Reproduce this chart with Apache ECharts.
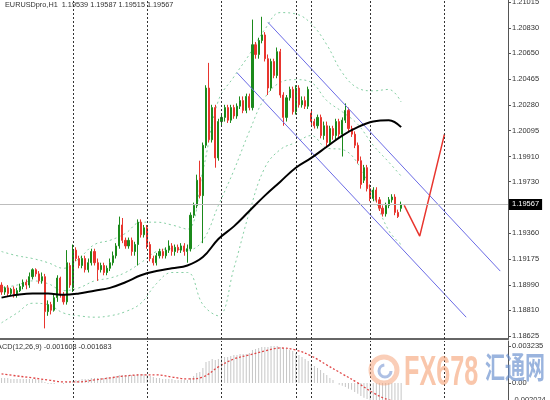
<!DOCTYPE html>
<html><head><meta charset="utf-8">
<script src="https://cdn.jsdelivr.net/npm/echarts@6/dist/echarts.min.js"></script>
<style>html,body{margin:0;padding:0;background:#fff}#c{width:550px;height:400px}</style>
</head><body><div id="c"></div>
<script>
const symbolName = 'EURUSDpro,H1';
const totalSlots = 164;
// [open, close, low, high]
const ohlc = [
[1.1899,1.1894,1.1892,1.1901],[1.1894,1.1897,1.1892,1.1898],[1.1897,1.1893,1.1891,1.1899],[1.1893,1.1896,1.1891,1.1897],
[1.1896,1.1892,1.1890,1.1898],[1.1892,1.1895,1.1890,1.1897],[1.1895,1.1898,1.1894,1.1900],[1.1898,1.1901,1.1896,1.1903],
[1.1901,1.1899,1.1896,1.1903],[1.1899,1.1905,1.1897,1.1908],[1.1905,1.1910,1.1903,1.1911],[1.1910,1.1907,1.1905,1.1911],
[1.1907,1.1902,1.1900,1.1909],[1.1902,1.1905,1.1900,1.1908],[1.1905,1.1880,1.1868,1.1907],[1.1880,1.1885,1.1877,1.1888],
[1.1885,1.1881,1.1878,1.1887],[1.1881,1.1890,1.1880,1.1892],[1.1890,1.1904,1.1887,1.1906],[1.1904,1.1892,1.1890,1.1905],
[1.1892,1.1887,1.1885,1.1894],[1.1887,1.1915,1.1885,1.1924],[1.1913,1.1899,1.1897,1.1915],[1.1897,1.1924,1.1894,1.1928],
[1.1924,1.1918,1.1916,1.1926],[1.1918,1.1913,1.1911,1.1920],[1.1913,1.1918,1.1911,1.1920],[1.1918,1.1910,1.1908,1.1920],
[1.1910,1.1915,1.1908,1.1918],[1.1915,1.1923,1.1913,1.1925],[1.1923,1.1915,1.1913,1.1925],[1.1915,1.1910,1.1902,1.1918],
[1.1910,1.1913,1.1908,1.1915],[1.1913,1.1908,1.1906,1.1915],[1.1908,1.1911,1.1906,1.1913],[1.1911,1.1915,1.1909,1.1918],
[1.1915,1.1920,1.1913,1.1923],[1.1920,1.1927,1.1918,1.1929],[1.1927,1.1942,1.1925,1.1948],[1.1942,1.1931,1.1929,1.1947],
[1.1931,1.1927,1.1925,1.1933],[1.1927,1.1931,1.1925,1.1933],[1.1931,1.1923,1.1920,1.1933],[1.1923,1.1928,1.1920,1.1930],
[1.1928,1.1944,1.1913,1.1946],[1.1944,1.1935,1.1933,1.1946],[1.1935,1.1940,1.1933,1.1942],[1.1940,1.1928,1.1925,1.1942],
[1.1928,1.1918,1.1916,1.1930],[1.1918,1.1915,1.1913,1.1920],[1.1915,1.1920,1.1913,1.1922],[1.1920,1.1923,1.1918,1.1925],
[1.1923,1.1920,1.1918,1.1925],[1.1920,1.1924,1.1918,1.1926],[1.1924,1.1927,1.1922,1.1931],[1.1927,1.1923,1.1920,1.1929],
[1.1923,1.1926,1.1920,1.1928],[1.1926,1.1924,1.1922,1.1928],[1.1924,1.1927,1.1922,1.1929],[1.1927,1.1923,1.1920,1.1929],
[1.1923,1.1925,1.1915,1.1928],[1.1925,1.1949,1.1923,1.1951],[1.1949,1.1956,1.1947,1.1958],[1.1956,1.1974,1.1954,1.1978],
[1.1976,1.1963,1.1961,1.1988],[1.1963,1.1999,1.1929,1.2001],[1.1999,1.2040,1.1997,1.2042],[1.2040,1.2003,1.2001,1.2058],
[1.2003,1.2026,1.2001,1.2028],[1.2026,1.1990,1.1983,1.2028],[1.1990,1.2016,1.1988,1.2018],[1.2016,1.2019,1.2013,1.2021],
[1.2019,1.2026,1.2016,1.2028],[1.2026,1.2017,1.2015,1.2028],[1.2017,1.2026,1.2015,1.2028],[1.2026,1.2020,1.2018,1.2028],
[1.2020,1.2027,1.2018,1.2029],[1.2027,1.2031,1.2025,1.2034],[1.2031,1.2024,1.2022,1.2034],[1.2024,1.2034,1.2022,1.2036],
[1.2034,1.2026,1.2024,1.2036],[1.2026,1.2071,1.2024,1.2089],[1.2071,1.2064,1.2061,1.2073],[1.2064,1.2074,1.2061,1.2076],
[1.2074,1.2078,1.2072,1.2091],[1.2078,1.2061,1.2059,1.2080],[1.2061,1.2040,1.2035,1.2064],[1.2040,1.2059,1.2038,1.2061],
[1.2059,1.2049,1.2047,1.2061],[1.2049,1.2066,1.2047,1.2069],[1.2066,1.2035,1.2033,1.2068],[1.2035,1.2019,1.2013,1.2037],
[1.2019,1.2033,1.2016,1.2035],[1.2033,1.2039,1.2031,1.2041],[1.2039,1.2023,1.2021,1.2041],[1.2023,1.2040,1.2021,1.2042],
[1.2040,1.2028,1.2026,1.2042],[1.2028,1.2031,1.2026,1.2034],[1.2031,1.2027,1.2025,1.2034],[1.2027,1.2039,1.2025,1.2041],
[1.2022,1.2016,1.2013,1.2024],[1.2016,1.2013,1.2011,1.2018],[1.2013,1.2019,1.2011,1.2021],[1.2019,1.2006,1.2004,1.2021],
[1.2006,1.2013,1.2003,1.2016],[1.2013,1.2001,1.1998,1.2016],[1.2001,1.2011,1.1999,1.2013],[1.2011,1.2006,1.2003,1.2013],
[1.2006,1.2016,1.2003,1.2018],[1.2016,1.2007,1.2005,1.2018],[1.2007,1.2017,1.1991,1.2019],[1.2017,1.2024,1.2015,1.2029],
[1.2024,1.2011,1.2009,1.2026],[1.2011,1.2007,1.2005,1.2013],[1.2007,1.1999,1.1997,1.2009],[1.1999,1.1988,1.1986,1.2001],
[1.1988,1.1971,1.1968,1.1991],[1.1974,1.1983,1.1972,1.1985],[1.1983,1.1968,1.1966,1.1985],[1.1968,1.1961,1.1959,1.1971],
[1.1961,1.1967,1.1959,1.1969],[1.1967,1.1960,1.1958,1.1969],[1.1960,1.1954,1.1952,1.1962],[1.1954,1.1950,1.1948,1.1956],
[1.1950,1.1956,1.1948,1.1958],[1.1956,1.1960,1.1954,1.1962],[1.1960,1.1962,1.1958,1.1964],[1.1962,1.1951,1.1949,1.1964],
[1.1951,1.1948,1.1947,1.1953],[1.19539,1.19567,1.19515,1.19587]
];
const sampleIdx = [0,5,10,15,20,25,30,35,40,45,50,55,60,65,70,75,80,85,90,95,100,105,110,115,120,125,129];
const maLine = [1.1890,1.1892,1.1893,1.1893,1.1892,1.1893,1.1895,1.1897,1.1901,1.1906,1.1909,1.1911,1.1913,1.1919,1.1932,1.1941,1.1952,1.1963,1.1973,1.1983,1.1990,1.1998,1.2006,1.2012,1.2016,1.2017,1.2012];
const bbUpper = [1.1923,1.1920,1.1918,1.1915,1.1911,1.1918,1.1928,1.1931,1.1936,1.1944,1.1944,1.1942,1.1939,1.1981,1.2031,1.2048,1.2064,1.2082,1.2094,1.2093,1.2086,1.2071,1.2051,1.2040,1.2038,1.2039,1.2030];
const bbMiddle = [1.1897,1.1899,1.1902,1.1900,1.1895,1.1897,1.1902,1.1904,1.1908,1.1915,1.1923,1.1925,1.1924,1.1931,1.1956,1.1981,1.2009,1.2033,1.2044,1.2046,1.2044,1.2031,1.2023,1.2014,1.1999,1.1987,1.1977];
const bbLower = [1.1872,1.1879,1.1886,1.1885,1.1879,1.1877,1.1876,1.1877,1.1880,1.1886,1.1900,1.1908,1.1908,1.1885,1.1877,1.1911,1.1951,1.1983,1.1996,1.2001,1.2006,1.1997,1.1996,1.1986,1.1963,1.1938,1.1928];
const channelUpper = [[86,1.2087],[161,1.1909]];
const channelLower = [[76,1.2051],[150,1.1876]];
const projection = [[130,1.1956],[135,1.1934],[143,1.2007]];
const macdMain = [
0.00044,0.00044,0.00044,0.00035,0.00035,0.00035,0.00035,0.00035,0.00035,0.00035,0.00035,0.00035,0.00026,0.00026,
0.00009,-0.00009,-0.00009,-0.00009,0,0,-0.00009,
0.00009,0.00009,0.00017,0.00026,0.00026,0.00035,0.00035,0.00035,0.00044,0.00044,0.00044,0.00044,0.00044,
0.00052,0.00052,0.00052,0.00061,0.0007,0.0007,0.0007,0.0007,0.0007,0.0007,0.00079,0.00079,0.00079,
0.0007,0.00061,0.00052,0.00044,0.00044,0.00035,0.00035,0.00035,0.00035,0.00026,0.00026,0.00026,0.00026,0.00026,
0.00044,0.00061,0.00087,0.00096,0.00131,0.00184,0.00192,0.0021,0.00201,0.0021,0.00219,0.00227,0.00227,0.00236,0.00245,0.00245,0.00253,0.00253,0.00253,0.00262,
0.00288,0.00297,0.00306,0.00315,0.00315,0.00315,0.003235,0.003235,0.003235,0.00315,0.00306,0.00297,0.00288,0.0028,
0.00262,0.00245,0.00227,0.0021,0.00192,0.00166,0.00149,0.00131,0.00114,0.00087,0.0007,0.00044,0.00026,0,-0.00017,-0.00026,-0.00035,-0.00052,-0.00061,-0.00079,-0.00096,-0.00114,-0.00131,-0.0014,-0.00157,-0.00166,-0.00175,-0.00184,-0.00192,-0.00197,-0.002024,-0.00199,-0.00192,-0.00175,-0.001608
];
const macdSignal = [0.00079,0.00061,0.00044,0.00026,0.00009,0.00009,0.00026,0.00044,0.00061,0.0007,0.0007,0.00052,0.00035,0.00052,0.0014,0.0021,0.00245,0.0028,0.00306,0.00288,0.00236,0.00157,0.00079,0,-0.00087,-0.00149,-0.001683];
const priceTickLabels = ['1.18625','1.18810','1.18990','1.19175','1.19360','1.19730','1.19910','1.20095','1.20280','1.20465','1.20650','1.20830','1.21015'];
const macdTickLabels = ['-0.002024','0.00','0.003235'];
const separatorSlots = [23,47,71,95,119,143];
const sessionSlot = 100;

const FONT = 'Liberation Sans';
const slots = Array.from({length: totalSlots}, (_, i) => String(i));
const priceTickVals = priceTickLabels.map(Number);
const macdTickVals = macdTickLabels.map(Number);
const last = ohlc[ohlc.length - 1];
const pairs = (arr) => sampleIdx.map((s, k) => [s, arr[k]]);
const nearestIdx = (vals, v) => {
  let b = 0; for (let i = 1; i < vals.length; i++) if (Math.abs(vals[i]-v) < Math.abs(vals[b]-v)) b = i;
  return Math.abs(vals[b]-v) < 1e-6 ? b : -1;
};
const vLines = separatorSlots.map(s => ({xAxis: s, lineStyle:{color:'#333', type:[2,2], width:1}, label:{show:false}}))
  .concat([{xAxis: sessionSlot, lineStyle:{color:'#333', type:[2,2], width:1}, label:{show:false}}]);

const chart = echarts.init(document.getElementById('c'), null, {renderer:'canvas', width:550, height:400});
chart.setOption({
  animation: false,
  backgroundColor: '#fff',
  textStyle: {fontFamily: FONT},
  title: [
    {text: symbolName + '  ' + [last[0], last[3], last[2], last[1]].map(v => v.toFixed(5)).join(' '),
     left: 5, top: 1, padding: 0, textStyle: {fontSize: 7.3, fontWeight: 'normal', color: '#333', fontFamily: FONT}},
    {text: 'MACD(12,26,9) ' + macdMain[macdMain.length-1].toFixed(6) + ' ' + macdSignal[macdSignal.length-1].toFixed(6),
     left: -9, top: 343, padding: 0, textStyle: {fontSize: 7.3, fontWeight: 'normal', color: '#333', fontFamily: FONT}}
  ],
  grid: [
    {left: 0, right: 42, top: 0, height: 339, containLabel: false, outerBoundsMode: 'none'},
    {left: 0, right: 42, top: 341, height: 65, containLabel: false, outerBoundsMode: 'none'}
  ],
  xAxis: [
    {type: 'category', gridIndex: 0, data: slots, boundaryGap: true,
     axisLine: {show: true, onZero: false, lineStyle: {color: '#666', width: 2}}, axisTick: {show: false}, axisLabel: {show: false}, splitLine: {show: false}},
    {type: 'category', gridIndex: 1, data: slots, boundaryGap: true,
     axisLine: {show: false}, axisTick: {show: false}, axisLabel: {show: false}, splitLine: {show: false}}
  ],
  yAxis: [
    {type: 'value', gridIndex: 0, position: 'right', min: 1.18604, max: 1.21030, scale: true,
     splitLine: {show: false},
     axisLine: {show: true, lineStyle: {color: '#555', width: 1}},
     axisTick: {show: true, length: 3, customValues: priceTickVals, lineStyle: {color: '#555'}},
     axisLabel: {customValues: priceTickVals, formatter: (v) => { const k = nearestIdx(priceTickVals, v); return k < 0 ? '' : priceTickLabels[k]; },
       fontSize: 7.5, color: '#333', margin: 4, fontFamily: FONT}},
    {type: 'value', gridIndex: 1, position: 'right', min: -0.002024, max: 0.003672, scale: true,
     splitLine: {show: false},
     axisLine: {show: true, lineStyle: {color: '#555', width: 1}},
     axisTick: {show: true, length: 3, customValues: macdTickVals, lineStyle: {color: '#555'}},
     axisLabel: {customValues: macdTickVals,
       formatter: (v) => { const k = nearestIdx(macdTickVals, v); if (k < 0) return ''; return k === 0 ? '{low|' + macdTickLabels[k] + '}' : macdTickLabels[k]; },
       rich: {low: {fontSize: 7.5, color: '#333', padding: [0,0,12,0], fontFamily: FONT}},
       fontSize: 7.5, color: '#333', margin: 4, fontFamily: FONT}}
  ],
  series: [
    {type: 'line', name: 'bbU', xAxisIndex: 0, yAxisIndex: 0, data: pairs(bbUpper), smooth: 0.4, symbol: 'none',
     lineStyle: {color: '#86cfa4', width: 1, type: [2,3]}, z: 1},
    {type: 'line', name: 'bbM', xAxisIndex: 0, yAxisIndex: 0, data: pairs(bbMiddle), smooth: 0.4, symbol: 'none',
     lineStyle: {color: '#86cfa4', width: 1, type: [2,3]}, z: 1},
    {type: 'line', name: 'bbL', xAxisIndex: 0, yAxisIndex: 0, data: pairs(bbLower), smooth: 0.4, symbol: 'none',
     lineStyle: {color: '#86cfa4', width: 1, type: [2,3]}, z: 1},
    {type: 'candlestick', xAxisIndex: 0, yAxisIndex: 0, data: ohlc, barWidth: 1.6, z: 3,
     itemStyle: {color: '#1b8a1b', color0: '#e8352e', borderColor: '#1b8a1b', borderColor0: '#e8352e', borderWidth: 1},
     markLine: {silent: true, symbol: ['none','none'], animation: false, data: vLines}},
    {type: 'line', name: 'ma', xAxisIndex: 0, yAxisIndex: 0, data: pairs(maLine), smooth: 0.4, symbol: 'none',
     lineStyle: {color: '#000', width: 2}, z: 5,
     markLine: {silent: true, symbol: ['none','none'], animation: false, precision: 5,
       data: [{yAxis: last[1], lineStyle: {color: '#bdbdbd', type: 'solid', width: 1},
         label: {show: true, position: 'end', formatter: last[1].toFixed(5), backgroundColor: '#000', color: '#fff',
                 fontSize: 7.5, padding: [2,3,1,3], distance: 1, fontFamily: FONT}}]}},
    {type: 'line', name: 'chU', xAxisIndex: 0, yAxisIndex: 0, data: channelUpper, symbol: 'none',
     lineStyle: {color: '#6b6be6', width: 1}, z: 4},
    {type: 'line', name: 'chL', xAxisIndex: 0, yAxisIndex: 0, data: channelLower, symbol: 'none',
     lineStyle: {color: '#6b6be6', width: 1}, z: 4},
    {type: 'line', name: 'proj', xAxisIndex: 0, yAxisIndex: 0, data: projection, symbol: 'none',
     lineStyle: {color: '#e8352e', width: 1.5}, z: 4},
    {type: 'bar', xAxisIndex: 1, yAxisIndex: 1, data: macdMain, barWidth: 1,
     itemStyle: {color: '#c6c6c6'}, z: 2,
     markLine: {silent: true, symbol: ['none','none'], animation: false, data: vLines}},
    {type: 'line', name: 'sig', xAxisIndex: 1, yAxisIndex: 1, data: pairs(macdSignal), smooth: 0.4, symbol: 'none',
     lineStyle: {color: '#e04848', width: 1.3, type: [2,2]}, z: 3}
  ],
  graphic: [
    {type: 'circle', shape: {cx: 384, cy: 370, r: 13}, style: {fill: 'none', stroke: 'rgba(245,165,125,0.55)', lineWidth: 5}, z: 100},
    {type: 'arc', shape: {cx: 385, cy: 371, r: 6, startAngle: 0, endAngle: 4.6}, style: {fill: 'none', stroke: 'rgba(120,150,210,0.6)', lineWidth: 3}, z: 100},
    {type: 'text', x: 404, y: 352, scaleX: 0.6, style: {text: 'FX678', font: 'bold 42px "Liberation Sans"', fill: 'rgba(245,160,115,0.6)'}, z: 100},
    {type: 'text', x: 485, y: 352, scaleY: 1.5, style: {text: '汇通网', font: 'bold 20px "Noto Sans CJK SC"', fill: 'rgba(100,140,205,0.65)'}, z: 100}
  ]
});
</script></body></html>
